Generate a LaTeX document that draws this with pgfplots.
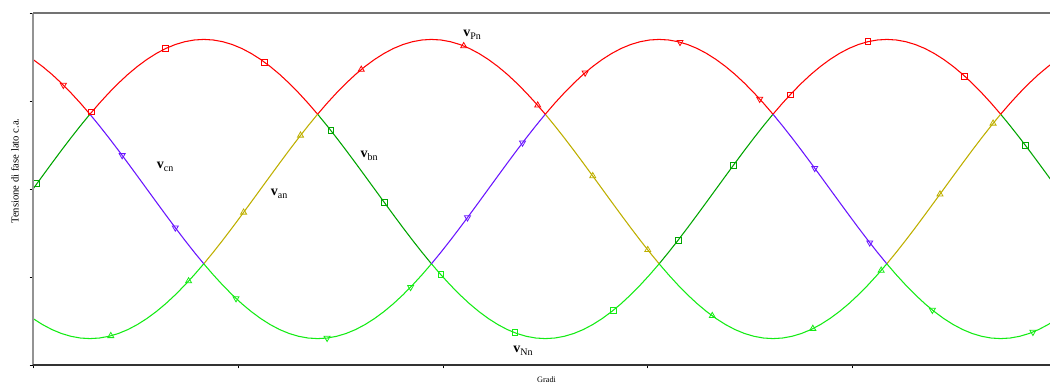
\documentclass[border=0pt]{standalone}
\usepackage{pgfplots}
\pgfplotsset{compat=1.18}
\usepackage{pgfplotstable}
\usepackage{fontspec}
\setmainfont{Liberation Serif}

% phase colours
\definecolor{cred}{RGB}{255,0,0}
\definecolor{clime}{RGB}{20,235,20}
\definecolor{cdkgreen}{RGB}{0,165,0}
\definecolor{colive}{RGB}{190,175,0}
\definecolor{cpurple}{RGB}{105,20,255}

% phase voltages (peak 340 V) every 5 degrees: v_bn, v_an, v_cn
\pgfplotstableread{
t b a c
0 0 -294.4 294.4
5 29.6 -308.1 278.5
10 59.0 -319.5 260.5
15 88.0 -328.4 240.4
20 116.3 -334.8 218.5
25 143.7 -338.7 195.0
30 170.0 -340.0 170.0
35 195.0 -338.7 143.7
40 218.5 -334.8 116.3
45 240.4 -328.4 88.0
50 260.5 -319.5 59.0
55 278.5 -308.1 29.6
60 294.4 -294.4 0
65 308.1 -278.5 -29.6
70 319.5 -260.5 -59.0
75 328.4 -240.4 -88.0
80 334.8 -218.5 -116.3
85 338.7 -195.0 -143.7
90 340.0 -170.0 -170.0
95 338.7 -143.7 -195.0
100 334.8 -116.3 -218.5
105 328.4 -88.0 -240.4
110 319.5 -59.0 -260.5
115 308.1 -29.6 -278.5
120 294.4 0 -294.4
125 278.5 29.6 -308.1
130 260.5 59.0 -319.5
135 240.4 88.0 -328.4
140 218.5 116.3 -334.8
145 195.0 143.7 -338.7
150 170.0 170.0 -340.0
155 143.7 195.0 -338.7
160 116.3 218.5 -334.8
165 88.0 240.4 -328.4
170 59.0 260.5 -319.5
175 29.6 278.5 -308.1
180 0 294.4 -294.4
185 -29.6 308.1 -278.5
190 -59.0 319.5 -260.5
195 -88.0 328.4 -240.4
200 -116.3 334.8 -218.5
205 -143.7 338.7 -195.0
210 -170.0 340.0 -170.0
215 -195.0 338.7 -143.7
220 -218.5 334.8 -116.3
225 -240.4 328.4 -88.0
230 -260.5 319.5 -59.0
235 -278.5 308.1 -29.6
240 -294.4 294.4 0
245 -308.1 278.5 29.6
250 -319.5 260.5 59.0
255 -328.4 240.4 88.0
260 -334.8 218.5 116.3
265 -338.7 195.0 143.7
270 -340.0 170.0 170.0
275 -338.7 143.7 195.0
280 -334.8 116.3 218.5
285 -328.4 88.0 240.4
290 -319.5 59.0 260.5
295 -308.1 29.6 278.5
300 -294.4 0 294.4
305 -278.5 -29.6 308.1
310 -260.5 -59.0 319.5
315 -240.4 -88.0 328.4
320 -218.5 -116.3 334.8
325 -195.0 -143.7 338.7
330 -170.0 -170.0 340.0
335 -143.7 -195.0 338.7
340 -116.3 -218.5 334.8
345 -88.0 -240.4 328.4
350 -59.0 -260.5 319.5
355 -29.6 -278.5 308.1
360 0 -294.4 294.4
365 29.6 -308.1 278.5
370 59.0 -319.5 260.5
375 88.0 -328.4 240.4
380 116.3 -334.8 218.5
385 143.7 -338.7 195.0
390 170.0 -340.0 170.0
395 195.0 -338.7 143.7
400 218.5 -334.8 116.3
405 240.4 -328.4 88.0
410 260.5 -319.5 59.0
415 278.5 -308.1 29.6
420 294.4 -294.4 0
425 308.1 -278.5 -29.6
430 319.5 -260.5 -59.0
435 328.4 -240.4 -88.0
440 334.8 -218.5 -116.3
445 338.7 -195.0 -143.7
450 340.0 -170.0 -170.0
455 338.7 -143.7 -195.0
460 334.8 -116.3 -218.5
465 328.4 -88.0 -240.4
470 319.5 -59.0 -260.5
475 308.1 -29.6 -278.5
480 294.4 0 -294.4
485 278.5 29.6 -308.1
490 260.5 59.0 -319.5
495 240.4 88.0 -328.4
500 218.5 116.3 -334.8
505 195.0 143.7 -338.7
510 170.0 170.0 -340.0
515 143.7 195.0 -338.7
520 116.3 218.5 -334.8
525 88.0 240.4 -328.4
530 59.0 260.5 -319.5
535 29.6 278.5 -308.1
540 0 294.4 -294.4
}\phasedata

\newcommand{\vlab}[1]{\textbf{v}\raisebox{-0.45ex}{\fontsize{7.5}{8}\selectfont #1}}

\begin{document}
\begin{tikzpicture}
\path[use as bounding box] (-24.75pt,-15.75pt) rectangle (762.75pt,273.75pt);
\begin{axis}[
  at={(0,0)}, anchor=south west,
  scale only axis, width=762.75pt, height=264pt,
  xmin=0, xmax=536, ymin=-400, ymax=400,
  xtick={0,108,216,324,432}, ytick={-400,-200,0,200,400},
  xticklabels={}, yticklabels={},
  xtick pos=left, ytick pos=left,
  tick align=outside, major tick length=2.5pt,
  tick style={black, line width=0.5pt},
  axis line style={draw=none},
  xlabel={Gradi},
  xlabel style={at={(axis description cs:0.505,-0.043)}, anchor=center, font=\fontsize{6.2}{7}\selectfont},
  ylabel={Tensione di fase lato c.a.},
  ylabel style={at={(axis description cs:-0.0177,0.551)}, anchor=center, font=\fontsize{8}{9}\selectfont},
  every axis plot/.append style={line width=0.8pt},
  clip=true,
]
% v_bn segments
\addplot[cdkgreen, restrict x to domain=0:30] table[x=t,y=b]{\phasedata};
\addplot[cred, restrict x to domain=30:150] table[x=t,y=b]{\phasedata};
\addplot[cdkgreen, restrict x to domain=150:210] table[x=t,y=b]{\phasedata};
\addplot[clime, restrict x to domain=210:330] table[x=t,y=b]{\phasedata};
\addplot[cdkgreen, restrict x to domain=330:390] table[x=t,y=b]{\phasedata};
\addplot[cred, restrict x to domain=390:510] table[x=t,y=b]{\phasedata};
\addplot[cdkgreen, restrict x to domain=510:540] table[x=t,y=b]{\phasedata};
% v_an segments
\addplot[clime, restrict x to domain=0:90] table[x=t,y=a]{\phasedata};
\addplot[colive, restrict x to domain=90:150] table[x=t,y=a]{\phasedata};
\addplot[cred, restrict x to domain=150:270] table[x=t,y=a]{\phasedata};
\addplot[colive, restrict x to domain=270:330] table[x=t,y=a]{\phasedata};
\addplot[clime, restrict x to domain=330:450] table[x=t,y=a]{\phasedata};
\addplot[colive, restrict x to domain=450:510] table[x=t,y=a]{\phasedata};
\addplot[cred, restrict x to domain=510:540] table[x=t,y=a]{\phasedata};
% v_cn segments
\addplot[cred, restrict x to domain=0:30] table[x=t,y=c]{\phasedata};
\addplot[cpurple, restrict x to domain=30:90] table[x=t,y=c]{\phasedata};
\addplot[clime, restrict x to domain=90:210] table[x=t,y=c]{\phasedata};
\addplot[cpurple, restrict x to domain=210:270] table[x=t,y=c]{\phasedata};
\addplot[cred, restrict x to domain=270:390] table[x=t,y=c]{\phasedata};
\addplot[cpurple, restrict x to domain=390:450] table[x=t,y=c]{\phasedata};
\addplot[clime, restrict x to domain=450:540] table[x=t,y=c]{\phasedata};

% markers: v_bn squares
\addplot[only marks, mark=square, mark size=2.2pt, cdkgreen, mark options={line width=0.6pt}] coordinates
  {(2,11.9) (157,132.8) (185,-29.6) (340,-116.3) (369,53.2) (523,99.4)};
\addplot[only marks, mark=square, mark size=2.2pt, cred, mark options={line width=0.6pt}] coordinates
  {(31,175.1) (70,319.5) (122,288.3) (399,214.0) (440,334.8) (491,256.6)};
\addplot[only marks, mark=square, mark size=2.2pt, clime, mark options={line width=0.6pt}] coordinates
  {(215,-195.0) (254,-326.8) (306,-275.1)};
% markers: v_an triangles
\addplot[only marks, mark=triangle, mark size=2.6pt, clime, mark options={line width=0.6pt}] coordinates
  {(41,-333.8) (82,-209.3) (358,-288.3) (411,-317.4) (447,-185.2)};
\addplot[only marks, mark=triangle, mark size=2.6pt, colive, mark options={line width=0.6pt}] coordinates
  {(111,-53.2) (141,121.9) (295,29.6) (324,-138.3) (478,-11.9) (506,149.1)};
\addplot[only marks, mark=triangle, mark size=2.6pt, cred, mark options={line width=0.6pt}] coordinates
  {(173,271.5) (227,325.1) (266,190.1)};
% markers: v_cn inverted triangles
\addplot[only marks, mark=triangle, mark size=2.6pt, cred, mark options={line width=0.6pt, rotate=180}] coordinates
  {(16,236.2) (291,264.2) (341,333.8) (383,204.6)};
\addplot[only marks, mark=triangle, mark size=2.6pt, cpurple, mark options={line width=0.6pt, rotate=180}] coordinates
  {(47,76.5) (75,-88.0) (229,-64.9) (258,105.1) (412,47.3) (441,-121.9)};
\addplot[only marks, mark=triangle, mark size=2.6pt, clime, mark options={line width=0.6pt, rotate=180}] coordinates
  {(107,-248.7) (155,-338.7) (199,-223.1) (474,-275.1) (527,-325.1)};

% curve names
\node[font=\fontsize{10.5}{12}\selectfont] at (axis cs:69.6,50) {\vlab{cn}};
\node[font=\fontsize{10.5}{12}\selectfont] at (axis cs:231.4,350) {\vlab{Pn}};
\node[font=\fontsize{10.5}{12}\selectfont] at (axis cs:177.1,75) {\vlab{bn}};
\node[font=\fontsize{10.5}{12}\selectfont] at (axis cs:129.7,-11) {\vlab{an}};
\node[font=\fontsize{10.5}{12}\selectfont] at (axis cs:258.3,-368) {\vlab{Nn}};
\end{axis}
% frame lines
\draw[gray!85, line width=1.5pt] (0,0) -- (0,264pt);
\draw[gray!90!black, line width=0.9pt] (0,264pt) -- (762.75pt,264pt);
\draw[black!80, line width=0.8pt] (0,0) -- (762.75pt,0);
\end{tikzpicture}
\end{document}
